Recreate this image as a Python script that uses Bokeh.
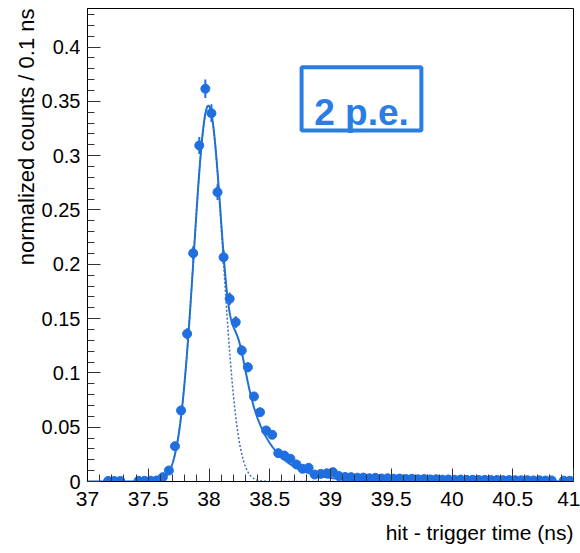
import math
import numpy as np
from bokeh.plotting import figure
from bokeh.models import Range1d, FixedTicker, Label, BoxAnnotation, ColumnDataSource, Title
from bokeh.embed import file_html
from bokeh.resources import INLINE

# ---------------- data ----------------
time_ns = [37.17, 37.22, 37.27, 37.42, 37.47, 37.52, 37.57, 37.62, 37.67, 37.72,
           37.77, 37.82, 37.87, 37.92, 37.97, 38.02, 38.07, 38.12, 38.17, 38.22,
           38.27, 38.32, 38.37, 38.42, 38.47, 38.52, 38.57, 38.62, 38.67, 38.72,
           38.77, 38.82, 38.87, 38.92, 38.97, 39.02, 39.07, 39.12, 39.17, 39.22,
           39.27, 39.32, 39.37, 39.42, 39.47, 39.52, 39.57, 39.62, 39.67, 39.72,
           39.77, 39.82, 39.87, 39.92, 39.97, 40.02, 40.07, 40.12, 40.17, 40.22,
           40.27, 40.32, 40.37, 40.42, 40.47, 40.52, 40.57, 40.62, 40.67, 40.72,
           40.77, 40.82, 40.92, 40.97]
counts = [0.0005, 0.0005, 0.0005, 0.0006, 0.0006, 0.0008, 0.0010, 0.0040, 0.0101, 0.0325,
          0.0654, 0.1360, 0.2102, 0.3094, 0.3616, 0.3391, 0.2664, 0.2065, 0.1682, 0.1467,
          0.1206, 0.1052, 0.0783, 0.0638, 0.0470, 0.0430, 0.0261, 0.0239, 0.0209, 0.0157,
          0.0117, 0.0126, 0.0064, 0.0070, 0.0075, 0.0086, 0.0050, 0.0042, 0.0040, 0.0035,
          0.0036, 0.0030, 0.0034, 0.0028, 0.0030, 0.0026, 0.0027, 0.0022, 0.0025, 0.0020,
          0.0022, 0.0019, 0.0021, 0.0017, 0.0019, 0.0016, 0.0018, 0.0015, 0.0016, 0.0014,
          0.0015, 0.0013, 0.0014, 0.0012, 0.0013, 0.0012, 0.0011, 0.0012, 0.0010, 0.0011,
          0.0009, 0.0010, 0.0008, 0.0007]
bin_half_width = 0.025

# fit parameters (Gaussian core + exponential tail)
fit_amp, fit_mean, fit_sigma = 0.346, 37.995, 0.12
tail_amp, tail_tau, tail_start, tail_width = 0.141, 0.21, 38.21, 0.05

x_tick_values = [37, 37.5, 38, 38.5, 39, 39.5, 40, 40.5, 41]
y_tick_values = [0, 0.05, 0.1, 0.15, 0.2, 0.25, 0.3, 0.35, 0.4]

x_title = "hit - trigger time (ns)"
y_title = "normalized counts / 0.1 ns"
box_text = "2 p.e."

# ---------------- derived ----------------
t = np.array(time_ns)
v = np.array(counts)
err = 0.014 * np.sqrt(v)

tt = np.linspace(37.0, 41.0, 1601)
gauss = fit_amp * np.exp(-0.5 * ((tt - fit_mean) / fit_sigma) ** 2)
phi = 0.5 * (1 + np.vectorize(math.erf)((tt - tail_start) / (tail_width * math.sqrt(2))))
tail = tail_amp * np.exp(-(tt - tail_start) / tail_tau) * phi
total = gauss + tail

BLUE = "#1f6fe0"
LINE = "#2070d4"
DOT = "#3a6cb8"
BOX = "#2b7de6"
FONT = "Liberation Sans"

p = figure(width=580, height=553, output_backend="svg", toolbar_location=None,
           x_range=Range1d(37, 41), y_range=Range1d(0, 0.4355),
           min_border_left=87, min_border_right=7, min_border_top=8, min_border_bottom=72)
p.background_fill_color = "white"
p.border_fill_color = "white"
p.outline_line_color = "black"
p.outline_line_width = 1
p.xgrid.grid_line_color = None
p.ygrid.grid_line_color = None

p.xaxis.ticker = FixedTicker(ticks=x_tick_values,
                             minor_ticks=[round(37 + 0.1 * i, 2) for i in range(41)])
p.yaxis.ticker = FixedTicker(ticks=y_tick_values,
                             minor_ticks=[round(0.01 * i, 2) for i in range(44)])
p.xaxis.major_label_overrides = {x: f"{x:g}" for x in x_tick_values}
p.yaxis.major_label_overrides = {y: f"{y:g}" for y in y_tick_values}
for ax in (p.xaxis, p.yaxis):
    ax.major_tick_in = 13
    ax.major_tick_out = 0
    ax.minor_tick_in = 7
    ax.minor_tick_out = 0
    ax.axis_line_color = "black"
    ax.major_tick_line_color = "#333333"
    ax.minor_tick_line_color = "#333333"
    ax.major_label_text_font = FONT
    ax.major_label_text_color = "black"
p.xaxis.major_label_text_font_size = "21px"
p.yaxis.major_label_text_font_size = "20px"
p.xaxis.major_label_standoff = 10
p.yaxis.major_label_standoff = 7

# axis titles (ROOT style: right/top aligned at the end of the axes)
p.add_layout(Title(text=x_title, align="right", text_font=FONT, text_font_size="21px",
                   text_font_style="normal", text_color="black", standoff=20), "below")
p.add_layout(Title(text=y_title, align="right", text_font=FONT, text_font_size="22px",
                   text_font_style="normal", text_color="black", standoff=0), "left")

# fit curves
p.line(tt, gauss, line_color=DOT, line_width=1.5, line_dash="2 2")
p.line(tt, total, line_color=LINE, line_width=2)

# error bars and markers
src = ColumnDataSource(dict(t=t, v=v, lo=v - err, hi=v + err,
                            l=t - bin_half_width, r=t + bin_half_width))
p.segment(x0="t", y0="lo", x1="t", y1="hi", source=src, line_color=BLUE, line_width=2)
p.segment(x0="l", y0="v", x1="r", y1="v", source=src, line_color=BLUE, line_width=2.5)
p.scatter(x="t", y="v", source=src, size=9, marker="circle",
          fill_color=BLUE, line_color=BLUE)

# "2 p.e." box
p.add_layout(BoxAnnotation(left=38.762, right=39.748, bottom=0.3232, top=0.3815,
                           fill_alpha=0, line_color=BOX, line_alpha=1.0, line_width=4))
p.add_layout(Label(x=39.255, y=0.340, text=box_text, text_align="center",
                   text_baseline="alphabetic", text_font=FONT, text_font_style="bold",
                   text_font_size="37px", text_color=BOX))

open("out.html", "w").write(file_html(p, INLINE))
